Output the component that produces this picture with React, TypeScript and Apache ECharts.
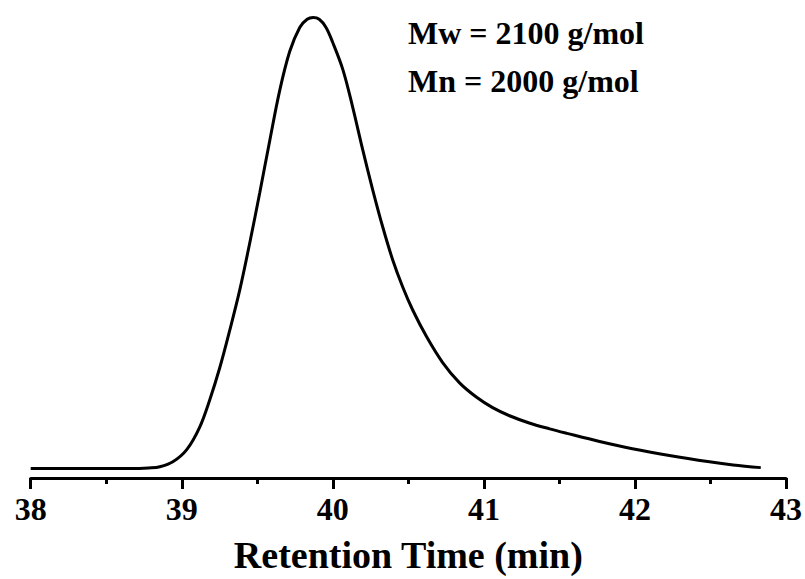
import React, { useEffect, useRef } from "react";
import * as echarts from "echarts";

const retentionTime: number[] = [
  38.0, 38.3, 38.6, 38.72, 38.78, 38.855, 38.941, 39.033, 39.119, 39.185, 39.252, 39.318,
  39.384, 39.45, 39.516, 39.583, 39.649, 39.715, 39.781, 39.83, 39.87, 39.91, 39.955, 39.999,
  40.067, 40.131, 40.197, 40.264, 40.33, 40.396, 40.462, 40.528, 40.621, 40.727, 40.839,
  40.952, 41.058, 41.17, 41.3, 41.435, 41.55, 41.766, 41.983, 42.228, 42.493, 42.65, 42.833,
];
const intensity: number[] = [
  0, 0, 0, 0, 0.001, 0.004, 0.015, 0.042, 0.092, 0.152, 0.224, 0.307,
  0.396, 0.5, 0.611, 0.728, 0.839, 0.925, 0.978, 0.996, 1.0, 0.996, 0.978, 0.945,
  0.884, 0.802, 0.708, 0.618, 0.536, 0.463, 0.403, 0.352, 0.292, 0.235, 0.19,
  0.158, 0.135, 0.117, 0.101, 0.088, 0.078, 0.06, 0.044, 0.029, 0.015, 0.008, 0.002,
];
const xTicks: number[] = [38, 39, 40, 41, 42, 43];
const annotations: string[] = ["Mw = 2100 g/mol", "Mn = 2000 g/mol"];
const xAxisTitle = "Retention Time (min)";

export default function App() {
  const ref = useRef<HTMLDivElement>(null);
  useEffect(() => {
    if (!ref.current) return;
    const chart = echarts.init(ref.current, null, { renderer: "svg" });
    const font = "'Liberation Serif', 'Times New Roman', serif";
    const data = retentionTime.map((x, i) => [x, intensity[i]]);
    chart.setOption({
      animation: false,
      backgroundColor: "#ffffff",
      grid: { left: 30.7, right: 18.3, top: 17.5, bottom: 101, containLabel: false },
      xAxis: {
        type: "value",
        min: xTicks[0],
        max: xTicks[xTicks.length - 1],
        interval: 1,
        name: xAxisTitle,
        nameLocation: "middle",
        nameGap: 58,
        nameTextStyle: { fontFamily: font, fontWeight: "bold", fontSize: 38, color: "#000" },
        axisLine: { show: true, onZero: false, lineStyle: { color: "#000", width: 3 } },
        axisTick: { show: true, inside: false, length: 11, lineStyle: { color: "#000", width: 3 } },
        minorTick: { show: true, splitNumber: 2, length: 6, lineStyle: { color: "#000", width: 3 } },
        axisLabel: { fontFamily: font, fontWeight: "bold", fontSize: 32, color: "#000", margin: 15 },
        splitLine: { show: false },
      },
      yAxis: {
        type: "value",
        show: false,
        min: -0.021,
        max: 1.0,
        splitLine: { show: false },
      },
      series: [
        {
          type: "line",
          data,
          smooth: 0.35,
          showSymbol: false,
          clip: false,
          lineStyle: { color: "#000", width: 3 },
        },
      ],
      graphic: annotations.map((t, i) => ({
        type: "text",
        left: 408,
        top: 17 + i * 48,
        style: { text: t, fontFamily: font, fontWeight: "bold", fontSize: 32, fill: "#000" },
      })),
    });
    return () => chart.dispose();
  }, []);
  return (
    <div
      ref={ref}
      style={{ position: "absolute", left: 0, top: 0, width: 805, height: 579, background: "#fff" }}
    />
  );
}
